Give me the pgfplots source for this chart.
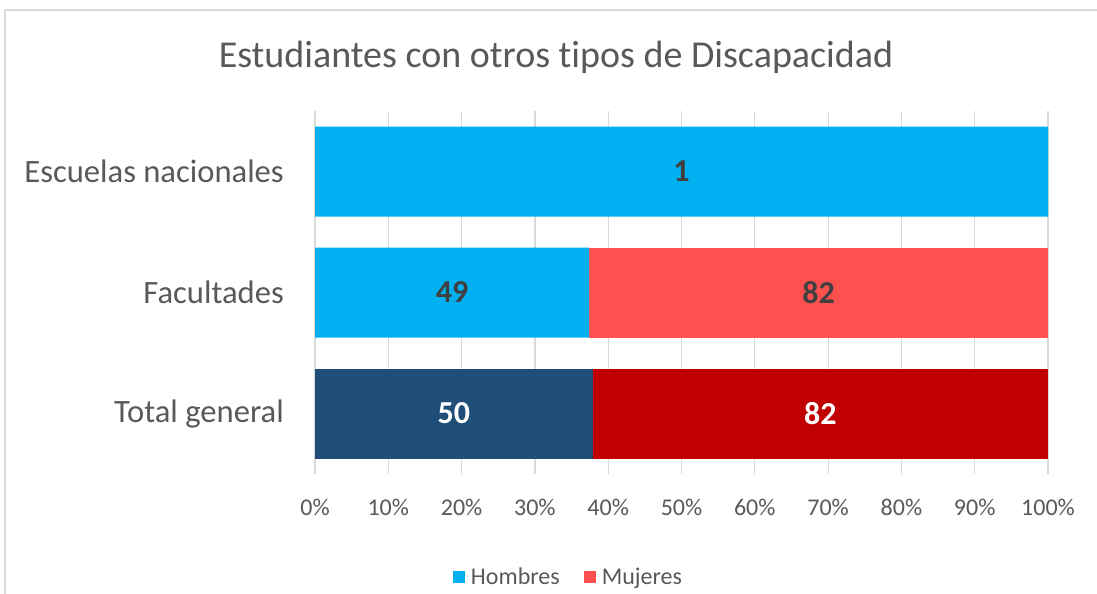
\documentclass[border=0pt]{standalone}
\usepackage{fontspec}
\setmainfont{Carlito}[Ligatures=NoCommon]
\usepackage{pgfplots}
\pgfplotsset{compat=1.18}
\usepackage{pgfplotstable}
\definecolor{hom}{HTML}{00B0F0}
\definecolor{muj}{HTML}{FF5050}
\definecolor{homT}{HTML}{1F4E79}
\definecolor{mujT}{HTML}{C00000}
\definecolor{txtgray}{HTML}{595959}
\definecolor{lblgray}{HTML}{404040}
\definecolor{gridgray}{HTML}{D9D9D9}

% y: 2 = Escuelas nacionales, 1 = Facultades, 0 = Total general
% pct = share of the row (100% stacked), raw = count shown as label
\pgfplotstableread{
y pct raw
2 100 1
1 37.40 49
0 0 {}
}\hombres
\pgfplotstableread{
y pct raw
2 0 {}
1 0 {}
0 37.88 50
}\hombresT
\pgfplotstableread{
y pct raw
2 0 {}
1 62.60 82
0 0 {}
}\mujeres
\pgfplotstableread{
y pct raw
2 0 {}
1 0 {}
0 62.12 82
}\mujeresT

\begin{document}
\begin{tikzpicture}
\useasboundingbox (0,0) rectangle (1097bp,-594bp);
\fill[white] (0,0) rectangle (1097bp,-594bp);
\draw[gridgray, line width=2bp] (5bp,-594bp) -- (5bp,-10bp) -- (1097bp,-10bp);
\node[text=txtgray, font=\fontsize{38bp}{45bp}\selectfont] at (556bp,-57bp) {Estudiantes con otros tipos de Discapacidad};
\begin{axis}[
  at={(315bp,-474bp)}, anchor=south west,
  scale only axis, width=733bp, height=363bp,
  xmin=0, xmax=100, ymin=-0.5, ymax=2.5,
  xbar stacked, bar width=90bp,
  axis line style={draw=none},
  tick style={draw=none},
  major tick length=0pt,
  xmajorgrids,
  grid style={draw=gridgray, line width=1.2bp},
  xtick={0,10,20,30,40,50,60,70,80,90,100},
  xticklabels={0\%,10\%,20\%,30\%,40\%,50\%,60\%,70\%,80\%,90\%,100\%},
  xticklabel style={anchor=center, yshift=-33bp, text=txtgray, font=\fontsize{24bp}{28bp}\selectfont},
  ytick={0,1,2},
  yticklabels={Total general,Facultades,Escuelas nacionales},
  yticklabel style={anchor=east, inner sep=0pt, xshift=-31bp, text=txtgray, font=\fontsize{32.6bp}{38bp}\selectfont},
  point meta=explicit symbolic,
  nodes near coords,
  every node near coord/.append style={anchor=center, font=\fontsize{32bp}{38bp}\selectfont\bfseries},
  legend style={at={(0.3458,-0.2837)}, anchor=center, draw=none, fill=none,
    legend columns=2, font=\fontsize{24bp}{28bp}\selectfont, text=txtgray,
    /tikz/every even column/.append style={column sep=22bp},
    cells={anchor=west}, inner sep=0pt},
  legend image code/.code={\fill[#1, draw=none] (0bp,-6bp) rectangle (12bp,6bp);\path (0bp,0bp) -- (16bp,0bp);},
]
\addplot[fill=hom, draw=none, every node near coord/.append style={text=lblgray}] table[x=pct, y=y, meta=raw] {\hombres};
\addlegendentry{Hombres}
\addplot[fill=homT, draw=none, forget plot, every node near coord/.append style={text=white}] table[x=pct, y=y, meta=raw] {\hombresT};
\addplot[fill=muj, draw=none, every node near coord/.append style={text=lblgray}] table[x=pct, y=y, meta=raw] {\mujeres};
\addlegendentry{Mujeres}
\addplot[fill=mujT, draw=none, forget plot, every node near coord/.append style={text=white}] table[x=pct, y=y, meta=raw] {\mujeresT};
\end{axis}
\end{tikzpicture}
\end{document}
